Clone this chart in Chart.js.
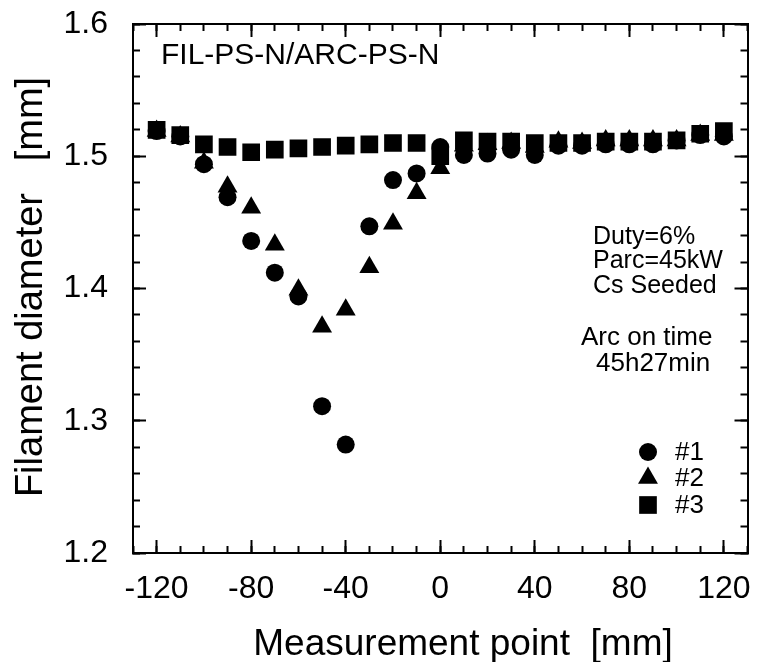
<!DOCTYPE html>
<html>
<head>
<meta charset="utf-8">
<script src="https://cdn.jsdelivr.net/npm/chart.js@4.4.1/dist/chart.umd.min.js"></script>
<style>
html, body { margin: 0; padding: 0; background: #ffffff; }
#wrap { width: 760px; height: 662px; }
</style>
</head>
<body>
<div id="wrap"><canvas id="c" width="760" height="662"></canvas></div>
<script>
// ---------------- data ----------------
const positions = [-120, -110, -100, -90, -80, -70, -60, -50, -40, -30, -20, -10, 0,
                   10, 20, 30, 40, 50, 60, 70, 80, 90, 100, 110, 120];
const series1 = [1.519, 1.515, 1.494, 1.469, 1.436, 1.412, 1.394, 1.311, 1.282, 1.447, 1.482, 1.487, 1.507,
                 1.501, 1.502, 1.505, 1.501, 1.508, 1.508, 1.509, 1.509, 1.509, 1.512, 1.516, 1.515];
const series2 = [1.519, 1.515, 1.495, 1.477, 1.461, 1.433, 1.399, 1.371, 1.384, 1.416, 1.449, 1.472, 1.491,
                 1.508, 1.509, 1.510, 1.507, 1.511, 1.510, 1.512, 1.512, 1.512, 1.512, 1.516, 1.516];
const series3 = [1.520, 1.516, 1.509, 1.507, 1.503, 1.505, 1.506, 1.507, 1.508, 1.509, 1.510, 1.510, 1.500,
                 1.512, 1.511, 1.511, 1.510, 1.510, 1.510, 1.511, 1.511, 1.511, 1.512, 1.517, 1.519];
const seriesNames = ['#1', '#2', '#3'];
const xMajorTicks = [-120, -80, -40, 0, 40, 80, 120];
const yMajorTicks = [1.2, 1.3, 1.4, 1.5, 1.6];
const yTickLabels = ['1.2', '1.3', '1.4', '1.5', '1.6'];
const xTitle = 'Measurement point  [mm]';
const yTitle = 'Filament diameter   [mm]';
const runLabel = 'FIL-PS-N/ARC-PS-N';
const conditionLines = ['Duty=6%', 'Parc=45kW', 'Cs Seeded'];
const arcTimeLines = ['Arc on time', '45h27min'];

// ---------------- styles ----------------
const FONT = "'Liberation Sans', Arial, Helvetica, sans-serif";
const INK = '#000000';
const markerStyles = [
  { pointStyle: 'circle', radius: 9 },
  { pointStyle: 'triangle', radius: 11.5 },
  { pointStyle: 'rect', radius: 12.5 }
];

function toPoints(ys) { return positions.map((x, i) => ({ x: x, y: ys[i] })); }

const allSeries = [series1, series2, series3];
const datasets = allSeries.map((ys, i) => ({
  label: seriesNames[i],
  data: toPoints(ys),
  showLine: false,
  pointStyle: markerStyles[i].pointStyle,
  pointRadius: markerStyles[i].radius,
  pointHoverRadius: markerStyles[i].radius,
  pointBackgroundColor: INK,
  pointBorderColor: INK,
  pointBorderWidth: 0,
  backgroundColor: INK,
  borderColor: INK
}));

function zeroPad(s) { s.paddingLeft = 0; s.paddingRight = 0; s.paddingTop = 0; s.paddingBottom = 0; }

function frameAxis(position, kind, weight) {
  const horizontal = position === 'top' || position === 'bottom';
  const isMajor = kind === 'major';
  const labelled = isMajor && (position === 'bottom' || position === 'left');
  const cfg = {
    type: 'linear',
    position: position,
    weight: weight,
    min: horizontal ? -130 : 1.2,
    max: horizontal ? 130 : 1.6,
    grid: {
      display: true,
      drawOnChartArea: false,
      drawTicks: true,
      tickLength: isMajor ? -13 : -7,
      tickWidth: 2,
      tickColor: INK
    },
    border: { display: isMajor, color: INK, width: 2 },
    ticks: {
      display: labelled,
      color: INK,
      autoSkip: false,
      maxRotation: 0,
      minRotation: 0,
      font: { family: FONT, size: 32 },
      padding: horizontal ? 30 : 38
    },
    afterFit: function (s) {
      if (horizontal) { s.height = (labelled ? 109 : 0); }
      else { s.width = (labelled ? 133 : 0); }
      zeroPad(s);
    }
  };
  if (isMajor) {
    const vals = horizontal ? xMajorTicks : yMajorTicks;
    cfg.afterBuildTicks = function (s) { s.ticks = vals.map(v => ({ value: v })); };
    if (!horizontal) {
      cfg.ticks.callback = function (value) {
        const idx = yMajorTicks.findIndex(v => Math.abs(v - value) < 1e-6);
        return idx >= 0 ? yTickLabels[idx] : '';
      };
    } else {
      cfg.ticks.callback = function (value) { return String(value); };
    }
  } else {
    cfg.ticks.stepSize = horizontal ? 10 : 0.02;
  }
  return cfg;
}

const textPlugin = {
  id: 'plotTexts',
  afterDraw(chart) {
    const ctx = chart.ctx;
    ctx.save();
    ctx.fillStyle = INK;

    // axis titles
    ctx.font = '37px ' + FONT;
    ctx.textAlign = 'center';
    ctx.textBaseline = 'alphabetic';
    ctx.fillText(xTitle, 463, 655);

    ctx.save();
    ctx.translate(42, 287);
    ctx.rotate(-Math.PI / 2);
    ctx.font = '38px ' + FONT;
    ctx.textAlign = 'center';
    ctx.textBaseline = 'alphabetic';
    ctx.fillText(yTitle, 0, 0);
    ctx.restore();

    // run label
    ctx.textAlign = 'left';
    ctx.textBaseline = 'middle';
    ctx.font = '30px ' + FONT;
    ctx.fillText(runLabel, 161, 56);

    // conditions
    ctx.font = '25px ' + FONT;
    const condY = [237, 261, 286];
    conditionLines.forEach((t, i) => ctx.fillText(t, 593, condY[i]));
    ctx.font = '26px ' + FONT;
    ctx.fillText(arcTimeLines[0], 581, 338);
    ctx.fillText(arcTimeLines[1], 596, 364);

    // legend
    const legY = [452, 478, 505];
    ctx.font = '26px ' + FONT;
    chart.data.datasets.forEach((ds, i) => {
      const opts = { pointStyle: ds.pointStyle, radius: ds.pointRadius, rotation: 0, borderWidth: 0 };
      ctx.fillStyle = INK;
      ctx.strokeStyle = INK;
      if (Chart.helpers && Chart.helpers.drawPoint) {
        Chart.helpers.drawPoint(ctx, opts, 648, legY[i]);
      }
      ctx.fillStyle = INK;
      ctx.textAlign = 'left';
      ctx.textBaseline = 'middle';
      ctx.fillText(ds.label, 675, legY[i] + 1);
    });
    ctx.restore();
  }
};

new Chart(document.getElementById('c'), {
  type: 'scatter',
  data: { datasets: datasets },
  options: {
    responsive: false,
    animation: false,
    devicePixelRatio: 1,
    layout: { padding: { left: 0, right: 8, top: 24, bottom: 0 } },
    plugins: { legend: { display: false }, tooltip: { enabled: false } },
    scales: {
      x: frameAxis('bottom', 'major', 1),
      xMinor: frameAxis('bottom', 'minor', 0),
      xTop: frameAxis('top', 'major', 1),
      xTopMinor: frameAxis('top', 'minor', 0),
      y: frameAxis('left', 'major', 1),
      yMinor: frameAxis('left', 'minor', 0),
      yRight: frameAxis('right', 'major', 1),
      yRightMinor: frameAxis('right', 'minor', 0)
    }
  },
  plugins: [textPlugin]
});
</script>
</body>
</html>
